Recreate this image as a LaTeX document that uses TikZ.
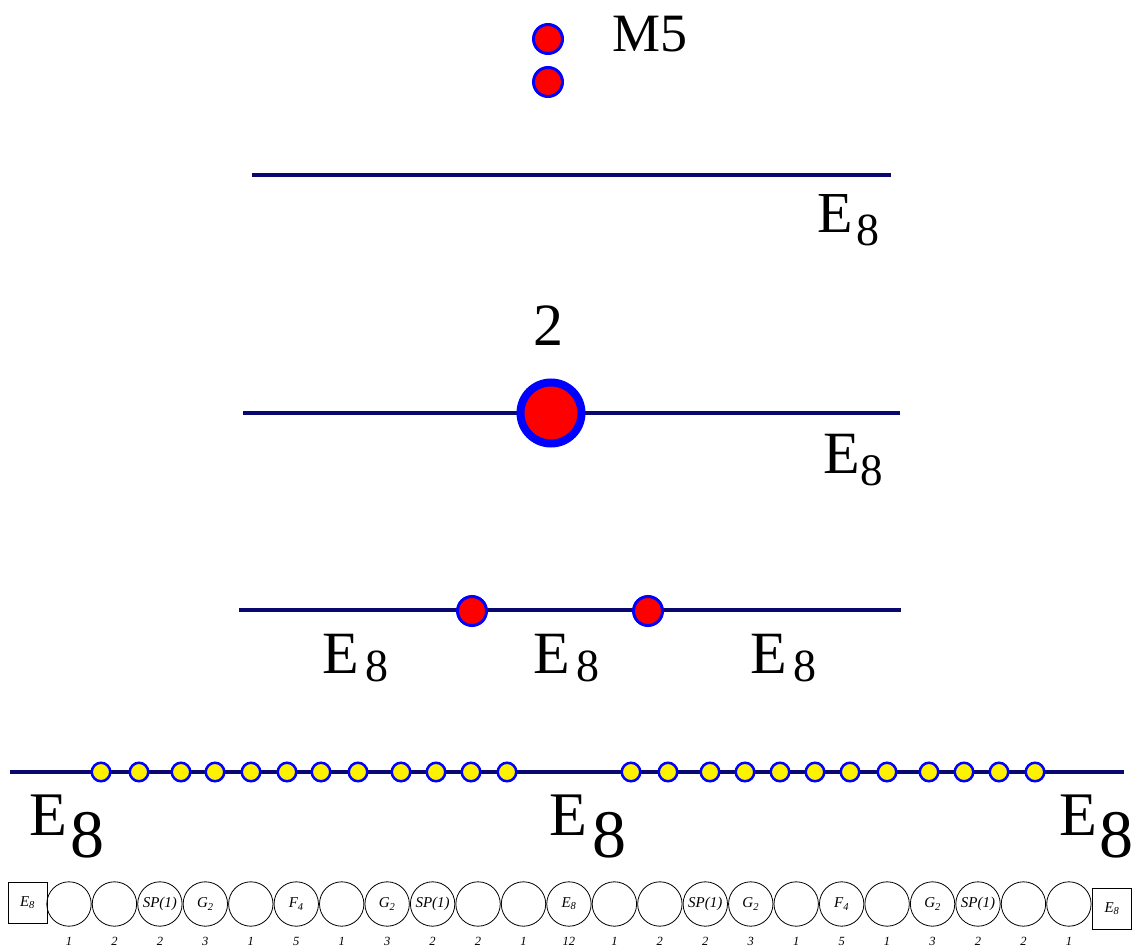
\documentclass[tikz,border=0pt]{standalone}
\usepackage{fontspec}
\setmainfont{Liberation Serif}
\usepackage{xcolor}
\usepackage{tikz}
\definecolor{branecol}{RGB}{8,8,112}
\tikzset{
	brane/.style={draw=branecol, line width=3.5pt},
	rdot/.style={circle, draw=blue, fill=red, line width=3pt, inner sep=0pt,
		minimum size=29pt},
	bigdot/.style={rdot, line width=8pt, minimum size=61pt},
	ydot/.style={circle, draw=blue, fill=yellow, line width=2.5pt, inner sep=0pt,
		minimum size=18.5pt},
	grp/.style={circle, draw, line width=0.8pt, inner sep=0pt, minimum size=44.4pt,
		font=\fontsize{15}{15}\selectfont\itshape},
	flav/.style={draw, line width=0.8pt, inner sep=0pt, minimum width=39pt,
		minimum height=41pt, font=\fontsize{15}{15}\selectfont\itshape},
	num/.style={anchor=base, inner sep=0pt, font=\fontsize{12.5}{12.5}\selectfont\itshape},
	lbl/.style={anchor=base west, inner sep=0pt},
}
% E with a lowered 8: sizes of E and 8, gap, drop
\newcommand{\Eeight}[4]{{\fontsize{#1}{#1}\selectfont E}\kern#3pt\raisebox{-#4pt}{\fontsize{#2}{#2}\selectfont 8}}

\begin{document}
\begin{tikzpicture}[x=1pt, y=-1pt]
	\useasboundingbox (0,0) rectangle (1132,947);
	% M5 branes
	\node[rdot] at (548,39) (m1) {};
	\node[rdot] at (548,82) (m2) {};
	\node[lbl, font=\fontsize{54}{54}\selectfont] at (612,52) (m5) {M5};
	% wall
	\coordinate (a1) at (252,175);
	\coordinate (b1) at (891,175);
	\draw[brane] (a1) -- (b1);
	\node[lbl] at (817,232) (e1) {\Eeight{58}{46}{3.5}{13}};
	% coincident pair
	\coordinate (a2) at (243,413);
	\coordinate (b2) at (900,413);
	\draw[brane] (a2) -- (b2);
	\node[bigdot] at (551,413) (d2) {};
	\node[anchor=base, inner sep=0pt, font=\fontsize{60}{60}\selectfont] at (548,345) (t2) {2};
	\node[lbl] at (823,473) (e2) {\Eeight{60}{45}{1}{12}};
	% separated pair
	\coordinate (a3) at (239,610);
	\coordinate (b3) at (901,610);
	\draw[brane] (a3) -- (b3);
	\node[rdot] at (472,611) (d3a) {};
	\node[rdot] at (648,611) (d3b) {};
	\node[lbl] at (322,673) (e3a) {\Eeight{60}{46}{7}{8}};
	\node[lbl] at (533,673) (e3b) {\Eeight{60}{46}{7}{8}};
	\node[lbl] at (750,673) (e3c) {\Eeight{60}{46}{7}{8}};
	% fractional branes
	\coordinate (a4) at (10,772);
	\coordinate (b4) at (1124,772);
	\draw[brane] (a4) -- (b4);
	\foreach \x [count=\i] in {101,139,181,215,251,287,321,358,401,436,471,507,
		631,668,710,745,780,815,850,887,929,964,999,1035}
		\node[ydot] at (\x,772) (y\i) {};
	\node[lbl] at (29,835) (e4a) {\Eeight{62}{68}{3}{22}};
	\node[lbl] at (549,835) (e4b) {\Eeight{62}{68}{5}{22}};
	\node[lbl] at (1059,835) (e4c) {\Eeight{62}{68}{2}{22}};
	% quiver
	\node[flav] at (27.5,902.5) (fl) {E\textsubscript{8}};
	\foreach \g/\n [count=\i] in {{}/1,{}/2,{SP(1)}/2,{G\textsubscript{2}}/3,{}/1,
		{F\textsubscript{4}}/5,{}/1,{G\textsubscript{2}}/3,{SP(1)}/2,{}/2,{}/1,
		{E\textsubscript{8}}/12,{}/1,{}/2,{SP(1)}/2,{G\textsubscript{2}}/3,{}/1,
		{F\textsubscript{4}}/5,{}/1,{G\textsubscript{2}}/3,{SP(1)}/2,{}/2,{}/1}
	{
		\node[grp] at ({69+(\i-1)*45.45},904) (g\i) {\g};
		\node[num] at (g\i |- 0,945) (n\i) {\n};
	}
	\node[flav] at (1112,908.5) (fr) {E\textsubscript{8}};
\end{tikzpicture}
\end{document}
